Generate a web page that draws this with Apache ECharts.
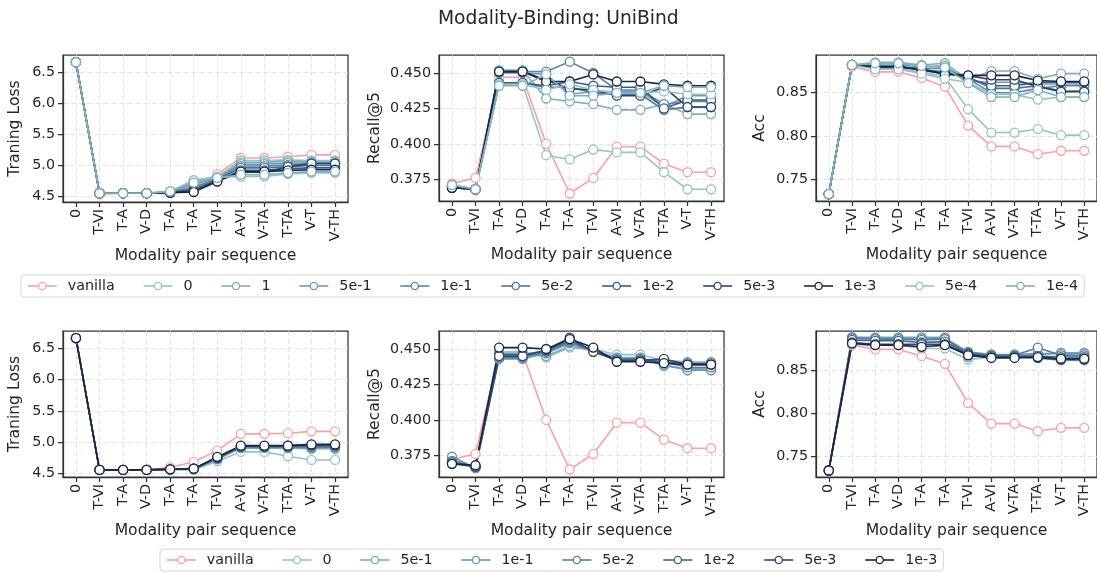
<!DOCTYPE html>
<html><head><meta charset="utf-8">
<script src="https://cdn.jsdelivr.net/npm/echarts@6/dist/echarts.min.js"></script>
<style>html,body{margin:0;padding:0;background:#fff}#c{width:1097px;height:573px}</style>
</head><body><div id="c"></div>
<script>
// ---- categories / labels ----
const seqLabels = ['0','T-VI','T-A','V-D','T-A','T-A','T-VI','A-VI','V-TA','T-TA','V-T','V-TH'];
const topNames = ['vanilla','0','1','5e-1','1e-1','5e-2','1e-2','5e-3','1e-3','5e-4','1e-4'];
const botNames = ['vanilla','0','5e-1','1e-1','5e-2','1e-2','5e-3','1e-3'];
const topColors = ['#ff9f9f','#93c4ca','#7cb1bd','#6a9db3','#5a89a8','#4b7399','#3b5a84','#2d426b','#1b2440','#93c4ca','#7cb1bd'];
const botColors = ['#ff9f9f','#93c4ca','#79adbb','#6496ae','#517d9f','#40628a','#2e466e','#1b2440'];
// ---- tick values ----
const lossTicks = [4.5, 5.0, 5.5, 6.0, 6.5];
const recallTicks = [0.375, 0.400, 0.425, 0.450];
const accTicks = [0.75, 0.80, 0.85];

// ---- top row: rows follow topNames ----
const topLoss = [
  [6.67,4.53,4.55,4.55,4.58,4.66,4.86,5.12,5.12,5.14,5.17,5.17],
  [6.67,4.55,4.55,4.55,4.57,4.76,4.82,5.08,5.08,5.09,5.08,5.08],
  [6.67,4.55,4.55,4.55,4.58,4.74,4.80,5.05,5.05,5.07,5.06,5.06],
  [6.67,4.55,4.55,4.55,4.57,4.70,4.79,5.02,5.02,5.04,5.04,5.04],
  [6.67,4.55,4.55,4.55,4.56,4.65,4.78,4.99,4.99,5.01,5.03,5.03],
  [6.67,4.55,4.55,4.55,4.56,4.62,4.77,4.96,4.96,4.98,5.00,5.00],
  [6.67,4.55,4.55,4.55,4.56,4.60,4.76,4.92,4.92,4.95,4.96,4.96],
  [6.67,4.55,4.55,4.55,4.56,4.58,4.75,4.89,4.89,4.98,5.03,5.03],
  [6.67,4.55,4.55,4.55,4.56,4.57,4.74,4.90,4.90,4.92,4.93,4.93],
  [6.67,4.55,4.55,4.55,4.58,4.76,4.81,4.82,4.82,4.86,4.88,4.88],
  [6.67,4.55,4.55,4.55,4.58,4.72,4.80,4.85,4.85,4.88,4.90,4.90]
];
const topRecall = [
  [0.372,0.376,0.447,0.447,0.400,0.365,0.376,0.398,0.398,0.386,0.380,0.380],
  [0.371,0.368,0.442,0.442,0.392,0.389,0.396,0.394,0.394,0.380,0.368,0.368],
  [0.371,0.368,0.452,0.452,0.432,0.430,0.428,0.424,0.424,0.428,0.421,0.421],
  [0.370,0.368,0.450,0.450,0.449,0.435,0.437,0.437,0.437,0.426,0.434,0.434],
  [0.370,0.368,0.451,0.451,0.451,0.458,0.450,0.438,0.438,0.428,0.430,0.430],
  [0.369,0.368,0.443,0.443,0.440,0.440,0.436,0.435,0.435,0.424,0.426,0.426],
  [0.369,0.368,0.443,0.443,0.441,0.444,0.441,0.440,0.440,0.425,0.431,0.431],
  [0.369,0.368,0.451,0.451,0.445,0.439,0.438,0.434,0.434,0.440,0.426,0.426],
  [0.369,0.368,0.451,0.451,0.444,0.444,0.449,0.444,0.444,0.442,0.441,0.441],
  [0.371,0.368,0.442,0.442,0.438,0.442,0.438,0.436,0.436,0.437,0.435,0.435],
  [0.371,0.368,0.441,0.441,0.449,0.434,0.434,0.436,0.436,0.441,0.440,0.440]
];
const topAcc = [
  [0.733,0.880,0.874,0.874,0.867,0.857,0.812,0.788,0.788,0.779,0.783,0.783],
  [0.733,0.882,0.878,0.878,0.874,0.868,0.831,0.804,0.804,0.808,0.801,0.801],
  [0.733,0.882,0.885,0.885,0.882,0.884,0.865,0.875,0.875,0.866,0.872,0.872],
  [0.733,0.882,0.882,0.882,0.880,0.881,0.863,0.862,0.862,0.860,0.860,0.860],
  [0.733,0.882,0.880,0.880,0.878,0.878,0.866,0.850,0.850,0.855,0.858,0.858],
  [0.733,0.882,0.881,0.881,0.876,0.874,0.868,0.855,0.855,0.858,0.852,0.852],
  [0.733,0.882,0.879,0.879,0.877,0.873,0.867,0.858,0.858,0.862,0.862,0.862],
  [0.733,0.882,0.880,0.880,0.876,0.872,0.870,0.865,0.865,0.857,0.851,0.851],
  [0.733,0.882,0.880,0.880,0.877,0.871,0.870,0.870,0.870,0.864,0.863,0.863],
  [0.733,0.882,0.877,0.877,0.872,0.866,0.862,0.848,0.848,0.842,0.845,0.845],
  [0.733,0.882,0.884,0.884,0.881,0.879,0.861,0.845,0.845,0.853,0.845,0.845]
];

// ---- bottom row: rows follow botNames ----
const botLoss = [
  [6.67,4.55,4.55,4.55,4.59,4.68,4.86,5.13,5.13,5.14,5.17,5.17],
  [6.67,4.55,4.55,4.55,4.55,4.55,4.69,4.84,4.84,4.77,4.71,4.71],
  [6.67,4.55,4.55,4.55,4.56,4.56,4.72,4.90,4.90,4.90,4.89,4.89],
  [6.67,4.55,4.55,4.55,4.56,4.57,4.73,4.91,4.91,4.91,4.91,4.91],
  [6.67,4.55,4.55,4.55,4.56,4.57,4.73,4.92,4.92,4.92,4.92,4.92],
  [6.67,4.55,4.55,4.55,4.56,4.57,4.74,4.93,4.93,4.93,4.94,4.94],
  [6.67,4.55,4.55,4.55,4.56,4.57,4.75,4.93,4.93,4.94,4.95,4.95],
  [6.67,4.55,4.55,4.55,4.56,4.57,4.76,4.94,4.94,4.94,4.96,4.96]
];
const botRecall = [
  [0.372,0.376,0.447,0.447,0.400,0.365,0.376,0.398,0.398,0.386,0.380,0.380],
  [0.371,0.367,0.448,0.448,0.444,0.451,0.450,0.446,0.446,0.442,0.441,0.441],
  [0.372,0.366,0.447,0.447,0.445,0.452,0.449,0.444,0.444,0.438,0.436,0.436],
  [0.374,0.366,0.443,0.443,0.447,0.454,0.448,0.443,0.443,0.439,0.435,0.435],
  [0.371,0.367,0.444,0.444,0.448,0.455,0.449,0.443,0.443,0.441,0.437,0.437],
  [0.370,0.367,0.446,0.446,0.449,0.456,0.449,0.442,0.442,0.441,0.440,0.440],
  [0.369,0.367,0.445,0.445,0.449,0.458,0.448,0.442,0.442,0.443,0.439,0.439],
  [0.369,0.368,0.451,0.451,0.450,0.457,0.451,0.441,0.441,0.440,0.439,0.439]
];
const botAcc = [
  [0.733,0.880,0.875,0.875,0.867,0.858,0.812,0.788,0.788,0.779,0.783,0.783],
  [0.733,0.881,0.880,0.880,0.876,0.876,0.863,0.866,0.866,0.865,0.862,0.862],
  [0.733,0.889,0.889,0.889,0.889,0.889,0.866,0.868,0.868,0.869,0.871,0.871],
  [0.733,0.889,0.888,0.888,0.888,0.888,0.872,0.869,0.869,0.870,0.870,0.870],
  [0.733,0.888,0.887,0.887,0.886,0.887,0.871,0.868,0.868,0.877,0.868,0.868],
  [0.733,0.886,0.885,0.885,0.883,0.884,0.870,0.867,0.867,0.867,0.866,0.866],
  [0.733,0.883,0.881,0.881,0.881,0.881,0.869,0.866,0.866,0.865,0.863,0.863],
  [0.733,0.882,0.880,0.880,0.878,0.880,0.868,0.865,0.865,0.866,0.864,0.864]
];

// ---- layout ----
const FONT = 'DejaVu Sans';
const TXT = '#262626';
const grids = [
  {left:63, top:55, width:285, height:147},
  {left:439, top:55, width:285, height:146},
  {left:816, top:55, width:285, height:146},
  {left:63, top:331, width:285, height:146},
  {left:439, top:331, width:285, height:146},
  {left:816, top:331, width:285, height:146}
].map(g => Object.assign(g, {show:true, borderColor:'#333', borderWidth:1.25, backgroundColor:'transparent'}));

const xIdx = seqLabels.map((_, i) => i);
const tickStyle = {show:true, inside:false, length:5, lineStyle:{color:'#333', width:1.25}};
const splitStyle = {show:true, lineStyle:{color:'#dcdcdc', width:0.8, type:[5,3]}};

const xAxes = grids.map((g, gi) => ({
  type:'value', gridIndex:gi, min:-0.55, max:11.55,
  name:'Modality pair sequence', nameLocation:'middle', nameGap:46,
  nameTextStyle:{fontFamily:FONT, fontSize:15.6, color:TXT},
  axisLine:{show:true, onZero:false, lineStyle:{color:'#333', width:1.25}},
  axisTick:Object.assign({customValues:xIdx}, tickStyle),
  axisLabel:{customValues:xIdx, rotate:90, margin:7, fontFamily:FONT, fontSize:14.3, color:TXT,
    formatter:v => seqLabels[Math.round(v)]},
  splitLine:splitStyle
}));

function yAx(gi, name, min, max, ticks, dec, gap) {
  return {
    type:'value', gridIndex:gi, min:min, max:max,
    name:name, nameLocation:'middle', nameGap:gap,
    nameTextStyle:{fontFamily:FONT, fontSize:15.6, color:TXT},
    axisLine:{show:true, onZero:false, lineStyle:{color:'#333', width:1.25}},
    axisTick:Object.assign({customValues:ticks}, tickStyle),
    axisLabel:{customValues:ticks, margin:8, fontFamily:FONT, fontSize:14.3, color:TXT,
      formatter:v => Number(v).toFixed(dec)},
    splitLine:splitStyle
  };
}
const yAxes = [
  yAx(0, 'Traning Loss', 4.408, 6.787, lossTicks, 1, 40),
  yAx(1, 'Recall@5', 0.3597, 0.4627, recallTicks, 3, 56),
  yAx(2, 'Acc', 0.725, 0.8935, accTicks, 2, 48),
  yAx(3, 'Traning Loss', 4.436, 6.784, lossTicks, 1, 40),
  yAx(4, 'Recall@5', 0.3597, 0.4627, recallTicks, 3, 56),
  yAx(5, 'Acc', 0.7254, 0.8965, accTicks, 2, 48)
];

function mk(names, colors, rows, gi) {
  return names.map((n, k) => ({
    name:n, type:'line', xAxisIndex:gi, yAxisIndex:gi,
    data:rows[k].map((v, i) => [i, v]),
    symbol:'circle', symbolSize:9, showSymbol:true, showAllSymbol:true,
    lineStyle:{color:colors[k], width:1.6},
    itemStyle:{color:'#fff', borderColor:colors[k], borderWidth:1.3},
    emphasis:{disabled:true}, animation:false
  }));
}
const series = [].concat(
  mk(topNames, topColors, topLoss, 0),
  mk(topNames, topColors, topRecall, 1),
  mk(topNames, topColors, topAcc, 2),
  mk(botNames, botColors, botLoss, 3),
  mk(botNames, botColors, botRecall, 4),
  mk(botNames, botColors, botAcc, 5)
);

function legendData(names, colors) {
  return names.map((n, k) => ({
    name:n,
    itemStyle:{color:'#fff', borderColor:colors[k], borderWidth:1.3},
    lineStyle:{color:colors[k], width:1.6}
  }));
}
const legendBase = {
  orient:'horizontal', itemWidth:29, itemHeight:9, itemGap:28, padding:[4,6,4,6],
  borderColor:'#d6d6d6', borderWidth:1, borderRadius:3, backgroundColor:'#fff',
  selectedMode:false,
  textStyle:{fontFamily:FONT, fontSize:14.3, color:TXT, padding:[0,0,0,6]}
};

const chart = echarts.init(document.getElementById('c'), null, {renderer:'canvas'});
chart.setOption({
  animation:false,
  backgroundColor:'#fff',
  title:{text:'Modality-Binding: UniBind', left:433, top:5,
    textStyle:{fontFamily:FONT, fontSize:18.7, fontWeight:'normal', color:TXT}},
  legend:[
    Object.assign({left:21, top:275, data:legendData(topNames, topColors)}, legendBase),
    Object.assign({left:160, top:549, data:legendData(botNames, botColors)}, legendBase)
  ],
  grid:grids,
  xAxis:xAxes,
  yAxis:yAxes,
  series:series
});
</script></body></html>
